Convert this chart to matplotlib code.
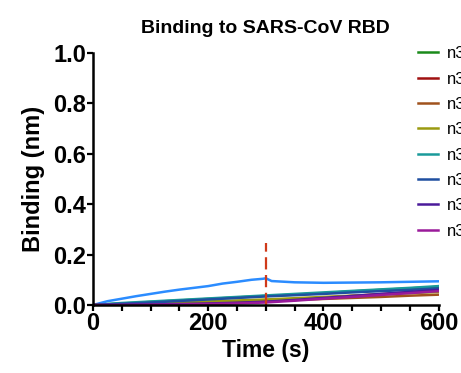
import numpy as np
import matplotlib
matplotlib.use('Agg')
import matplotlib.pyplot as plt
from matplotlib.ticker import MultipleLocator, FormatStrFormatter

plt.rcParams['font.family'] = ['Liberation Sans', 'DejaVu Sans']

# time points (s)
t = [0, 50, 100, 150, 200, 250, 300, 350, 400, 450, 500, 550, 600]
t_blue = [0, 25, 50, 75, 100, 125, 150, 175, 200, 225, 250, 275, 295, 300,
          310, 350, 400, 450, 500, 550, 600]

# light blue trace (not in legend)
blue_trace = [0.0, 0.015, 0.025, 0.035, 0.044, 0.053, 0.061, 0.068, 0.075,
              0.085, 0.092, 0.1, 0.104, 0.106, 0.095, 0.09, 0.088, 0.089,
              0.09, 0.092, 0.094]

names = ['n3063', 'n3086', 'n3088', 'n3092', 'n3103', 'n3113', 'n3130', 'n3131']
colors = ['#1a8a1a', '#a01010', '#a0521d', '#9a9a10', '#1a9a9a', '#1f4fa0',
          '#4b1a9a', '#9a1a9a']
series = [
    [0.0, 0.006, 0.012, 0.018, 0.024, 0.03, 0.036, 0.041, 0.047, 0.054, 0.06, 0.066, 0.072],
    [0.0, 0.002, 0.004, 0.006, 0.009, 0.012, 0.016, 0.022, 0.029, 0.036, 0.043, 0.05, 0.058],
    [0.0, 0.001, 0.003, 0.006, 0.009, 0.012, 0.016, 0.02, 0.024, 0.028, 0.032, 0.037, 0.041],
    [0.0, 0.003, 0.006, 0.01, 0.014, 0.018, 0.022, 0.027, 0.032, 0.037, 0.042, 0.047, 0.052],
    [0.0, 0.008, 0.014, 0.02, 0.026, 0.032, 0.038, 0.044, 0.05, 0.056, 0.062, 0.068, 0.075],
    [0.0, 0.005, 0.01, 0.016, 0.022, 0.028, 0.034, 0.039, 0.044, 0.05, 0.055, 0.06, 0.066],
    [0.0, 0.001, 0.002, 0.004, 0.006, 0.009, 0.013, 0.02, 0.028, 0.036, 0.044, 0.052, 0.06],
    [0.0, 0.0, 0.001, 0.002, 0.004, 0.006, 0.01, 0.017, 0.025, 0.032, 0.04, 0.047, 0.055],
]

fig = plt.figure(figsize=(4.61, 3.73), dpi=100)
ax = fig.add_axes([0.2017, 0.1823, 0.75, 0.676])

ax.plot(t_blue, blue_trace, color='#2b8cff', lw=1.8)
for name, col, ys in zip(names, colors, series):
    ax.plot(t, ys, color=col, lw=1.8, label=name)

ax.plot([300, 300], [0, 0.245], color='#d03a1a', lw=1.6, ls=(0, (5.5, 2.5)))

ax.set_xlim(0, 600)
ax.set_ylim(0, 1.0)
ax.xaxis.set_major_locator(MultipleLocator(200))
ax.xaxis.set_minor_locator(MultipleLocator(50))
ax.yaxis.set_major_locator(MultipleLocator(0.2))
ax.yaxis.set_major_formatter(FormatStrFormatter('%.1f'))

for s in ['top', 'right']:
    ax.spines[s].set_visible(False)
for s in ['left', 'bottom']:
    ax.spines[s].set_linewidth(1.8)
ax.tick_params(which='major', length=4, width=1.6, labelsize=17, pad=1)
ax.tick_params(which='minor', length=4, width=1.6)
for lab in ax.get_xticklabels() + ax.get_yticklabels():
    lab.set_fontweight('bold')

ax.set_xlabel('Time (s)', fontsize=16.5, fontweight='bold', labelpad=3)
ax.set_ylabel('Binding (nm)', fontsize=17, fontweight='bold', labelpad=6)
ax.set_title('Binding to SARS-CoV RBD', fontsize=14, fontweight='bold', pad=14)

fig.legend(loc='upper left', bbox_to_anchor=(0.899, 0.885), frameon=False,
           fontsize=12, handlelength=1.2, labelspacing=0.62, handletextpad=0.55,
           borderaxespad=0, borderpad=0.2)

fig.savefig('out.png', dpi=100)
